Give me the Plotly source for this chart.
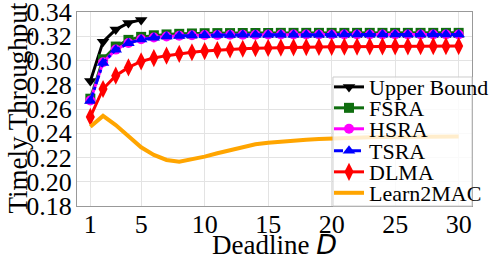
import plotly.graph_objects as go

D = list(range(1, 31))
D_upper = [1, 2, 3, 4, 5]

upper_bound = [0.283, 0.3155, 0.3255, 0.331, 0.3335]
fsra = [0.2685, 0.301, 0.3115, 0.317, 0.3195, 0.3208, 0.3215, 0.322, 0.3223, 0.3225,
        0.3226, 0.3226, 0.3227, 0.3227, 0.3227, 0.3228, 0.3228, 0.3228, 0.3228, 0.3228,
        0.3228, 0.3228, 0.3228, 0.3228, 0.3228, 0.3228, 0.3228, 0.3228, 0.3228, 0.3228]
hsra = [0.267, 0.2985, 0.309, 0.3145, 0.3175, 0.319, 0.3198, 0.3204, 0.3208, 0.321,
        0.3211, 0.3212, 0.3213, 0.3213, 0.3214, 0.3214, 0.3214, 0.3214, 0.3214, 0.3214,
        0.3215, 0.3215, 0.3215, 0.3215, 0.3215, 0.3215, 0.3215, 0.3215, 0.3215, 0.3215]
tsra = [0.2665, 0.298, 0.3088, 0.3143, 0.3173, 0.3188, 0.3197, 0.3203, 0.3207, 0.3209,
        0.321, 0.3211, 0.3212, 0.3212, 0.3213, 0.3213, 0.3213, 0.3213, 0.3213, 0.3213,
        0.3214, 0.3214, 0.3214, 0.3214, 0.3214, 0.3214, 0.3214, 0.3214, 0.3214, 0.3214]
dlma = [0.2535, 0.2765, 0.2875, 0.2943, 0.2993, 0.302, 0.304, 0.3055, 0.3068, 0.3078,
        0.3086, 0.3092, 0.3097, 0.3101, 0.3104, 0.3107, 0.3109, 0.3111, 0.3112, 0.3113,
        0.3114, 0.3115, 0.3116, 0.3116, 0.3117, 0.3117, 0.3118, 0.3118, 0.3118, 0.3119]
learn2mac = [0.2454, 0.2543, 0.2468, 0.2372, 0.2284, 0.2221, 0.218, 0.2166, 0.2185, 0.2207,
             0.2235, 0.2262, 0.229, 0.2309, 0.2322, 0.2332, 0.234, 0.2347, 0.2353, 0.2358,
             0.2362, 0.2365, 0.2367, 0.2369, 0.237, 0.2371, 0.2372, 0.2372, 0.2373, 0.2373]

x_ticks = [1, 5, 10, 15, 20, 25, 30]
y_ticks = [0.18, 0.20, 0.22, 0.24, 0.26, 0.28, 0.30, 0.32, 0.34]
x_title = "Deadline <i><span style=\"font-family:'DejaVu Sans'\">D</span></i>"
y_title = "Timely Throughput"

SERIF = "Liberation Serif"

fig = go.Figure()
fig.add_trace(go.Scatter(x=D_upper, y=upper_bound, name="Upper Bound", mode="lines+markers",
                         line=dict(color="black", width=3),
                         marker=dict(symbol="triangle-down", size=11, color="black"),
                         legend="legend"))
fig.add_trace(go.Scatter(x=D, y=fsra, name="FSRA", mode="lines+markers",
                         line=dict(color="#0f6e0f", width=3),
                         marker=dict(symbol="square", size=10, color="#0f6e0f"),
                         legend="legend2"))
fig.add_trace(go.Scatter(x=D, y=hsra, name="HSRA", mode="lines+markers",
                         line=dict(color="#ff00ff", width=3),
                         marker=dict(symbol="circle", size=10, color="#ff00ff"),
                         legend="legend3"))
fig.add_trace(go.Scatter(x=D, y=tsra, name="TSRA", mode="lines+markers",
                         line=dict(color="#0000ff", width=3, dash="dashdot"),
                         marker=dict(symbol="triangle-up", size=11, color="#0000ff"),
                         legend="legend4"))
fig.add_trace(go.Scatter(x=D, y=dlma, name="DLMA", mode="lines+markers",
                         line=dict(color="#ff0000", width=3),
                         marker=dict(symbol="diamond-tall", size=13, color="#ff0000"),
                         legend="legend5"))
fig.add_trace(go.Scatter(x=D, y=learn2mac, name="Learn2MAC", mode="lines",
                         line=dict(color="#ffa500", width=4),
                         legend="legend6"))

leg_common = dict(x=0.638, xanchor="left", yanchor="middle", bgcolor="rgba(0,0,0,0)",
                  borderwidth=0, font=dict(family=SERIF, size=22, color="black"))
leg_y = [0.613, 0.505, 0.397, 0.284, 0.175, 0.067]

fig.update_layout(
    width=498, height=262,
    margin=dict(l=77, r=4, t=12, b=56),
    paper_bgcolor="white", plot_bgcolor="white",
    font=dict(family=SERIF, color="black"),
    showlegend=True,
    legend=dict(y=leg_y[0], **leg_common),
    legend2=dict(y=leg_y[1], **leg_common),
    legend3=dict(y=leg_y[2], **leg_common),
    legend4=dict(y=leg_y[3], **leg_common),
    legend5=dict(y=leg_y[4], **leg_common),
    legend6=dict(y=leg_y[5], **leg_common),
    shapes=[dict(type="rect", xref="paper", yref="paper", x0=0.648, x1=1.0, y0=0.0, y1=0.665,
                 fillcolor="rgba(255,255,255,0.8)", line=dict(color="#cccccc", width=1),
                 layer="above")],
    annotations=[
        dict(text=x_title, xref="paper", yref="paper", x=0.5, y=-0.196,
             xanchor="center", yanchor="middle", showarrow=False,
             font=dict(family=SERIF, size=27, color="black")),
        dict(text=y_title, xref="paper", yref="paper", x=-0.149, y=0.503,
             xanchor="center", yanchor="middle", showarrow=False, textangle=-90,
             font=dict(family=SERIF, size=27, color="black")),
    ],
)
fig.update_xaxes(range=[-0.05, 31.05], tickvals=x_ticks, ticktext=[str(v) for v in x_ticks],
                 showgrid=True, gridcolor="#e3e3e3", gridwidth=1, zeroline=False,
                 showline=True, linecolor="#999999", linewidth=1, mirror=True, ticks="",
                 tickfont=dict(family=SERIF, size=26, color="black"),
                 ticklabelstandoff=-5, ticklabeloverflow="allow",
                 automargin=False)
fig.update_yaxes(range=[0.18, 0.34], tickvals=y_ticks, ticktext=["%.2f" % v for v in y_ticks],
                 showgrid=True, gridcolor="#e3e3e3", gridwidth=1, zeroline=False,
                 showline=True, linecolor="#999999", linewidth=1, mirror=True, ticks="",
                 tickfont=dict(family=SERIF, size=26, color="black"),
                 ticklabelstandoff=-1, ticklabeloverflow="allow",
                 automargin=False)

fig.write_html("out.html", config={"displayModeBar": False},
               post_script="document.body.style.margin='0px';")
